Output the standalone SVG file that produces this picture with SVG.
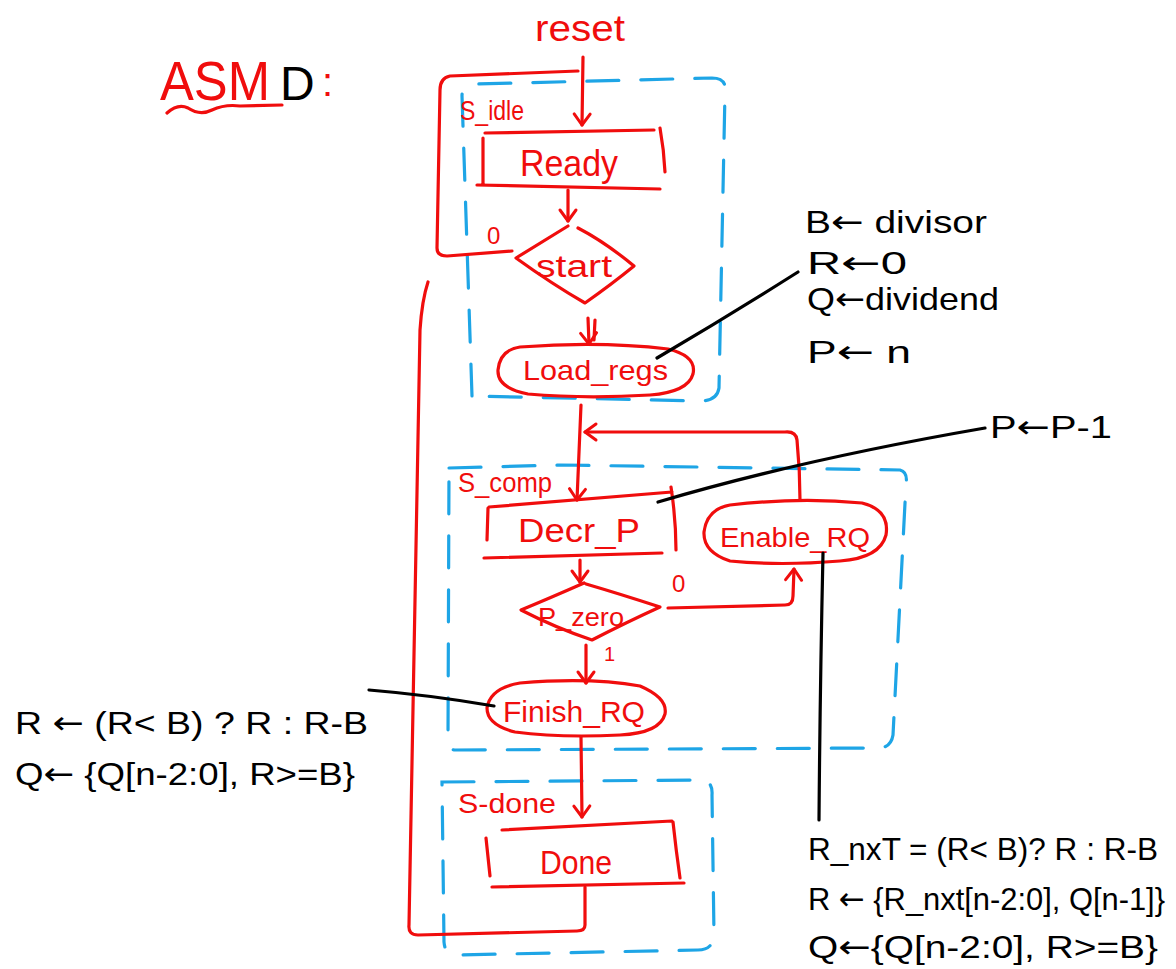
<svg xmlns="http://www.w3.org/2000/svg" width="1176" height="969" viewBox="0 0 1176 969">
  <style>
    .red { fill: none; stroke: #f00d0d; stroke-width: 3.2; stroke-linecap: round; stroke-linejoin: round; }
    .blue { fill: none; stroke: #1ea5e6; stroke-width: 3.2; stroke-linecap: round; stroke-dasharray: 32 22; }
    .ink { fill: none; stroke: #000; stroke-width: 3.2; stroke-linecap: round; }
    .rt { fill: #f00d0d; font-family: "Liberation Sans", "DejaVu Sans", sans-serif; }
    .bt { fill: #000; font-family: "Liberation Sans", "DejaVu Sans", sans-serif; }
    .arr { font-family: "DejaVu Sans", sans-serif; }
  </style>
  <defs>
    <marker id="head" markerUnits="userSpaceOnUse" markerWidth="24" markerHeight="24" viewBox="-14 -12 16 24" refX="0" refY="0" orient="auto">
      <path d="M-11,-8 L0,0 L-11,8" fill="none" stroke="#f00d0d" stroke-width="3" stroke-linecap="round" stroke-linejoin="round"/>
    </marker>
  </defs>
  <rect width="1176" height="969" fill="#fff"/>

  <!-- heading -->
  <g id="title">
    <text class="rt" x="160" y="100" font-size="56" textLength="110" lengthAdjust="spacingAndGlyphs">ASM</text>
    <text class="bt" x="280" y="100" font-size="48">D</text>
    <text class="rt" x="322" y="96" font-size="40">:</text>
    <path class="red" d="M167,113 Q178,103 188,108 Q200,116 212,110 Q225,104 240,106 L282,105"/>
  </g>

  <!-- state boxes (dashed) -->
  <g id="s_idle">
    <path class="blue" d="M472,396 L462,96 Q462,84 476,84 L712,78 Q727,78 725,92 L719,388 Q717,401 700,401 Z"/>
    <text class="rt" x="460" y="120" font-size="28" textLength="64" lengthAdjust="spacingAndGlyphs">S_idle</text>
  </g>
  <g id="s_comp">
    <path class="blue" d="M449,468 L560,465 L900,470 Q908,472 906,484 L893,735 Q891,748 878,748 L455,750 Q448,750 448,738 Z"/>
    <text class="rt" x="458" y="492" font-size="28" textLength="94" lengthAdjust="spacingAndGlyphs">S_comp</text>
  </g>
  <g id="s_done">
    <path class="blue" d="M442,782 L703,780 Q713,782 712,795 L714,935 Q713,950 698,950 L456,955 Q445,955 444,942 Z"/>
    <text class="rt" x="458" y="813" font-size="28" textLength="98" lengthAdjust="spacingAndGlyphs">S-done</text>
  </g>

  <!-- state and conditional blocks -->
  <g id="ready">
    <path class="red" d="M485,133 L654,130 M483,138 L483,184 M660,128 Q664,150 665,172 M477,185 L660,189"/>
    <text class="rt" x="520" y="176" font-size="37" textLength="98" lengthAdjust="spacingAndGlyphs">Ready</text>
  </g>
  <g id="start">
    <path class="red" d="M568,226 Q542,242 516,258 Q552,284 585,303 Q612,284 634,266 Q605,242 578,228"/>
    <text class="rt" x="536" y="277" font-size="31" textLength="76" lengthAdjust="spacingAndGlyphs">start</text>
    <text class="rt" x="487" y="244" font-size="24">0</text>
  </g>
  <g id="load_regs">
    <path class="red" d="M520,347 Q600,341 668,349 Q697,356 693,374 Q688,392 650,395 Q585,399 528,394 Q497,388 498,370 Q500,350 520,347 Z"/>
    <text class="rt" x="523" y="380" font-size="28" textLength="145" lengthAdjust="spacingAndGlyphs">Load_regs</text>
  </g>
  <g id="decr_p">
    <path class="red" d="M489,507 L672,492 M488,508 L487,540 M671,487 Q676,520 676,550 M484,558 L662,553"/>
    <text class="rt" x="518" y="542" font-size="34" textLength="122" lengthAdjust="spacingAndGlyphs">Decr_P</text>
  </g>
  <g id="p_zero">
    <path class="red" d="M584,583 Q550,598 521,610 Q556,628 592,640 Q627,622 660,607 Q620,594 586,584"/>
    <text class="rt" x="538" y="626" font-size="25" textLength="86" lengthAdjust="spacingAndGlyphs">P_zero</text>
    <text class="rt" x="672" y="592" font-size="24">0</text>
    <text class="rt" x="604" y="661" font-size="20">1</text>
  </g>
  <g id="enable_rq">
    <path class="red" d="M730,505 Q800,497 862,503 Q890,510 886,535 Q880,558 840,561 Q780,566 730,561 Q703,552 704,532 Q707,509 730,505 Z"/>
    <text class="rt" x="720" y="547" font-size="28" textLength="150" lengthAdjust="spacingAndGlyphs">Enable_RQ</text>
  </g>
  <g id="finish_rq">
    <path class="red" d="M520,683 Q590,677 640,686 Q668,698 665,714 Q660,733 620,735 Q560,738 515,732 Q487,725 487,708 Q490,688 520,683 Z"/>
    <text class="rt" x="503" y="722" font-size="30" textLength="142" lengthAdjust="spacingAndGlyphs">Finish_RQ</text>
  </g>
  <g id="done">
    <path class="red" d="M502,830 L672,821 M486,838 L490,876 M673,822 Q676,850 680,878 M492,887 L684,883"/>
    <text class="rt" x="540" y="874" font-size="33" textLength="72" lengthAdjust="spacingAndGlyphs">Done</text>
  </g>

  <!-- register transfer notes -->
  <g id="reset_label">
    <text class="rt" x="535" y="41" font-size="36" textLength="90" lengthAdjust="spacingAndGlyphs">reset</text>
  </g>
  <g id="load_notes">
    <text class="bt" x="805" y="233" font-size="32" textLength="182" lengthAdjust="spacingAndGlyphs">B<tspan class="arr">←</tspan> divisor</text>
    <text class="bt" x="807" y="274" font-size="32" textLength="100" lengthAdjust="spacingAndGlyphs">R<tspan class="arr">←</tspan>0</text>
    <text class="bt" x="807" y="310" font-size="32" textLength="192" lengthAdjust="spacingAndGlyphs">Q<tspan class="arr">←</tspan>dividend</text>
    <text class="bt" x="807" y="363" font-size="32" textLength="104" lengthAdjust="spacingAndGlyphs">P<tspan class="arr">←</tspan> n</text>
  </g>
  <g id="decr_notes">
    <text class="bt" x="990" y="438" font-size="32" textLength="122" lengthAdjust="spacingAndGlyphs">P<tspan class="arr">←</tspan>P-1</text>
  </g>
  <g id="finish_notes">
    <text class="bt" x="15" y="734" font-size="32" textLength="353" lengthAdjust="spacingAndGlyphs">R <tspan class="arr">←</tspan> (R&lt; B) ? R : R-B</text>
    <text class="bt" x="15" y="785" font-size="32" textLength="340" lengthAdjust="spacingAndGlyphs">Q<tspan class="arr">←</tspan> {Q[n-2:0], R&gt;=B}</text>
  </g>
  <g id="enable_notes">
    <text class="bt" x="808" y="860" font-size="32" textLength="350" lengthAdjust="spacingAndGlyphs">R_nxT = (R&lt; B)? R : R-B</text>
    <text class="bt" x="808" y="910" font-size="32" textLength="357" lengthAdjust="spacingAndGlyphs">R <tspan class="arr">←</tspan> {R_nxt[n-2:0], Q[n-1]}</text>
    <text class="bt" x="808" y="958" font-size="32" textLength="350" lengthAdjust="spacingAndGlyphs">Q<tspan class="arr">←</tspan>{Q[n-2:0], R&gt;=B}</text>
  </g>

  <!-- transitions and annotation leaders -->
  <g id="connectors">
    <path class="red" d="M583,57 L582,125" marker-end="url(#head)"/>
    <path class="red" d="M578,71 L450,76 Q440,78 440,90 L437,248 Q437,256 447,256 L512,251"/>
    <path class="red" d="M568,190 L568,221" marker-end="url(#head)"/>
    <path class="red" d="M588,318 L589,344" marker-end="url(#head)"/>
    <path class="red" d="M595,320 L594,340"/>
    <path class="red" d="M581,405 L577,500" marker-end="url(#head)"/>
    <path class="red" d="M800,500 Q800,470 797,440 Q796,431 785,432 L585,432" marker-end="url(#head)"/>
    <path class="red" d="M580,560 L580,582" marker-end="url(#head)"/>
    <path class="red" d="M668,608 L785,605 Q793,605 793,596 L794,569" marker-end="url(#head)"/>
    <path class="red" d="M586,645 L586,683" marker-end="url(#head)"/>
    <path class="red" d="M581,737 L582,817" marker-end="url(#head)"/>
    <path class="red" d="M585,887 L585,925 Q585,931 577,931 L418,935 Q408,935 409,925 L420,330 Q422,300 428,282"/>
    <path class="ink" d="M657,358 Q730,315 798,272"/>
    <path class="ink" d="M658,502 Q800,460 985,428"/>
    <path class="ink" d="M823,553 Q820,690 819,820"/>
    <path class="ink" d="M369,690 Q430,695 494,706"/>
  </g>
</svg>
